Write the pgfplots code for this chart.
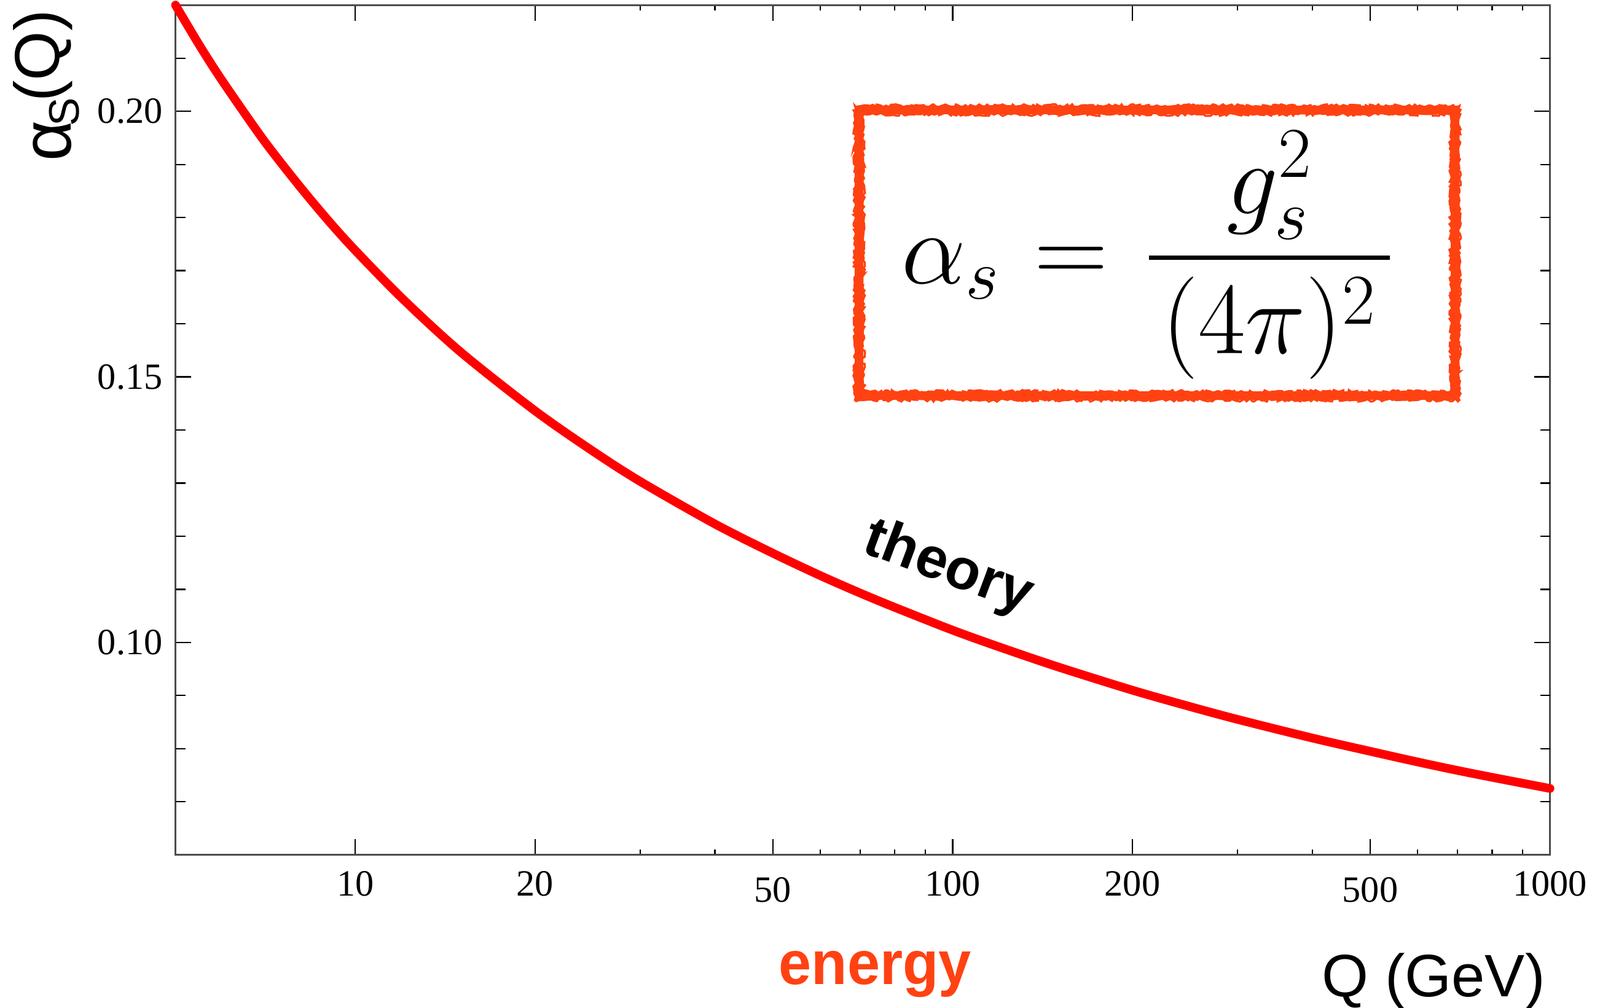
\RequirePackage{fix-cm}
\documentclass[border=0pt]{standalone}
\usepackage{amsmath}
\usepackage{fontspec}
\setmainfont{Liberation Serif}
\newfontfamily\helv{Liberation Sans}
\usepackage{pgfplots}
\usepackage{pgfplotstable}
\pgfplotsset{compat=1.18}
\usetikzlibrary{decorations.pathmorphing}
\definecolor{orng}{RGB}{255,66,18}

\pgfplotstableread{
Q a
5 0.2200
5.5 0.2122
6 0.2056
7 0.1948
8 0.1864
9 0.1795
10 0.1738
12 0.1647
15 0.1547
20 0.1436
25 0.1360
30 0.1303
40 0.1223
50 0.1168
60 0.1126
70 0.1093
80 0.1066
100 0.1023
120 0.0991
150 0.0954
200 0.0910
250 0.0879
300 0.0855
400 0.0820
500 0.0795
600 0.0775
700 0.0759
800 0.0746
1000 0.0725
}\alphadata

\begin{document}
\begin{tikzpicture}
\begin{axis}[
  xmode=log, log basis x=10,
  scale only axis,
  width=389.7pt, height=241pt,
  xmin=5, xmax=1000, ymin=0.06, ymax=0.22,
  xtick={10,20,50,100,200,500,1000},
  xticklabels={10,20,\raisebox{-1.7pt}{50},100,200,\raisebox{-1.7pt}{500},1000},
  minor xtick={30,40,60,70,80,90,300,400,600,700,800,900},
  ytick={0.10,0.15,0.20}, yticklabels={0.10,0.15,0.20},
  extra y ticks={0.07,0.08,0.09,0.11,0.12,0.13,0.14,0.16,0.17,0.18,0.19,0.21},
  extra y tick labels={},
  extra y tick style={major tick length=2.8pt},
  major tick length=4.5pt, minor tick length=1.5pt,
  tick style={black, line width=0.4pt},
  axis line style={black!70, line width=0.6pt},
  ticklabel style={font=\fontsize{10.5}{12}\selectfont, inner sep=0pt},
  xticklabel style={anchor=base, yshift=-11.6pt},
  yticklabel style={anchor=east, xshift=-3.5pt},
  /pgf/number format/assume math mode=true,
  clip=false,
]
\addplot[red, line width=2.45pt, smooth, line cap=round] table[x=Q,y=a]{\alphadata};
\coordinate (SW) at (rel axis cs:0,0);
\coordinate (SE) at (rel axis cs:1,0);
\coordinate (NW) at (rel axis cs:0,1);
\coordinate (NE) at (rel axis cs:1,1);
\coordinate (EN) at (rel axis cs:0.509,0);
\node[rotate=-20.5, font=\helv\bfseries\fontsize{16.3}{17}\selectfont, inner sep=0pt] at (rel axis cs:0.562,0.337) {theory};
\draw[orng, line width=2.4pt] (rel axis cs:0.4974,0.5402) rectangle (rel axis cs:0.9310,0.8764);
\draw[orng, line width=0.6pt, decorate, decoration={random steps, segment length=0.7pt, amplitude=0.45pt}] ([xshift=-1.2pt,yshift=-1.2pt]rel axis cs:0.4974,0.5402) rectangle ([xshift=1.2pt,yshift=1.2pt]rel axis cs:0.9310,0.8764);
\draw[orng, line width=0.6pt, decorate, decoration={random steps, segment length=0.7pt, amplitude=0.45pt}] ([xshift=1.2pt,yshift=1.2pt]rel axis cs:0.4974,0.5402) rectangle ([xshift=-1.2pt,yshift=-1.2pt]rel axis cs:0.9310,0.8764);
\node[inner sep=0pt] at (rel axis cs:0.7075,0.7059) {\fontsize{29}{33}\selectfont$\displaystyle \alpha_s \mskip1mu=\mskip1.5mu \genfrac{}{}{1.25pt}{0}{g_s^2}{\mskip2.3mu(4\pi)^2\mskip2.3mu}$};
\end{axis}
\node[anchor=base east, inner sep=0pt, font=\helv\fontsize{17}{18}\selectfont] at ([xshift=-1.2pt, yshift=-40.2pt]SE) {Q (GeV)};
\node[anchor=base, inner sep=0pt, text=orng, font=\helv\bfseries\fontsize{17.5}{18}\selectfont] at ([yshift=-36.7pt]EN) {\scalebox{0.95}[1]{energy}};
\node[rotate=90, anchor=base, inner sep=0pt, font=\helv\fontsize{18}{19}\selectfont] at ([xshift=-32.9pt, yshift=-22.9pt]NW) {{\fontsize{20}{20}\selectfont\raisebox{-3.2pt}{α}}\kern-1.5pt\raisebox{-5.5pt}{\fontsize{12.1}{13}\selectfont S}\kern-1.2pt(Q)};
\pgfresetboundingbox
\path ([xshift=-49.76pt, yshift=-43.4pt]SW) rectangle ([xshift=14.18pt, yshift=1.45pt]NE);
\end{tikzpicture}
\end{document}
